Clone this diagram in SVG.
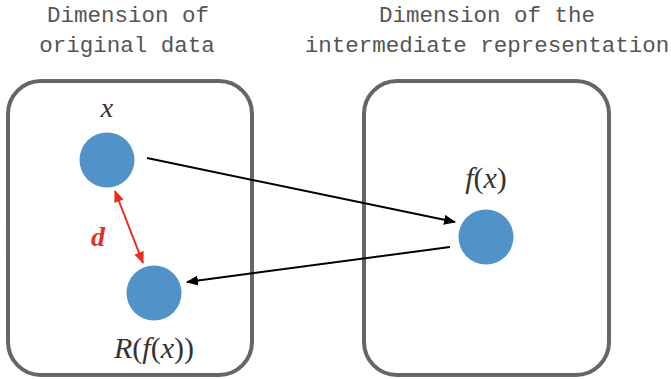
<svg xmlns="http://www.w3.org/2000/svg" width="671" height="379" viewBox="0 0 671 379">
<style>
.title{font-family:"Liberation Mono","DejaVu Sans Mono",monospace;font-size:22.5px;fill:#555;text-anchor:middle}
.box{fill:#fff;stroke:#666;stroke-width:4}
.pt{fill:#5192C8}
.math{font-family:"Liberation Serif","DejaVu Serif",serif;font-style:italic;fill:#333;text-anchor:middle}
.up{font-style:normal}
.conn{stroke:#000;stroke-width:2;fill:none}
.red{stroke:#E5301F;stroke-width:2;fill:none}
</style>
<defs>
<marker id="ah" viewBox="0 0 12 10" refX="11" refY="5" markerWidth="12" markerHeight="10" markerUnits="userSpaceOnUse" orient="auto">
<path d="M0,0 L12,5 L0,10 z" fill="#000"/>
</marker>
<marker id="rh" viewBox="0 0 12 10" refX="11" refY="5" markerWidth="12" markerHeight="10" markerUnits="userSpaceOnUse" orient="auto-start-reverse">
<path d="M0,0 L12,5 L0,10 z" fill="#E5301F"/>
</marker>
</defs>
<g id="title-left">
<text class="title" x="128" y="22">Dimension of</text>
<text class="title" x="127" y="52">original data</text>
</g>
<g id="title-right">
<text class="title" x="487" y="22">Dimension of the</text>
<text class="title" x="487" y="52">intermediate representation</text>
</g>
<g id="box-original">
<rect class="box" x="8" y="81" width="244" height="294" rx="33" ry="33"/>
</g>
<g id="box-intermediate">
<rect class="box" x="364" y="81" width="245" height="294" rx="33" ry="33"/>
</g>
<g id="node-x">
<circle class="pt" cx="107" cy="160" r="27.5"/>
<text class="math" x="107" y="117" font-size="28">x</text>
</g>
<g id="node-Rfx">
<circle class="pt" cx="154" cy="293" r="27.5"/>
<text class="math" x="154" y="358" font-size="30">R<tspan class="up">(</tspan>f<tspan class="up">(</tspan>x<tspan class="up">))</tspan></text>
</g>
<g id="node-fx">
<circle class="pt" cx="486" cy="237" r="27.5"/>
<text class="math" x="486" y="188" font-size="30">f<tspan class="up">(</tspan>x<tspan class="up">)</tspan></text>
</g>
<g id="connectors">
<line class="conn" x1="147" y1="158" x2="455" y2="222" marker-end="url(#ah)"/>
<line class="conn" x1="450" y1="247" x2="187" y2="282" marker-end="url(#ah)"/>
<line class="red" x1="115" y1="191" x2="143" y2="263" marker-start="url(#rh)" marker-end="url(#rh)"/>
<text x="98" y="246" font-family="Liberation Serif, DejaVu Serif, serif" font-style="italic" font-weight="bold" font-size="28" fill="#E5301F" text-anchor="middle">d</text>
</g>
</svg>
